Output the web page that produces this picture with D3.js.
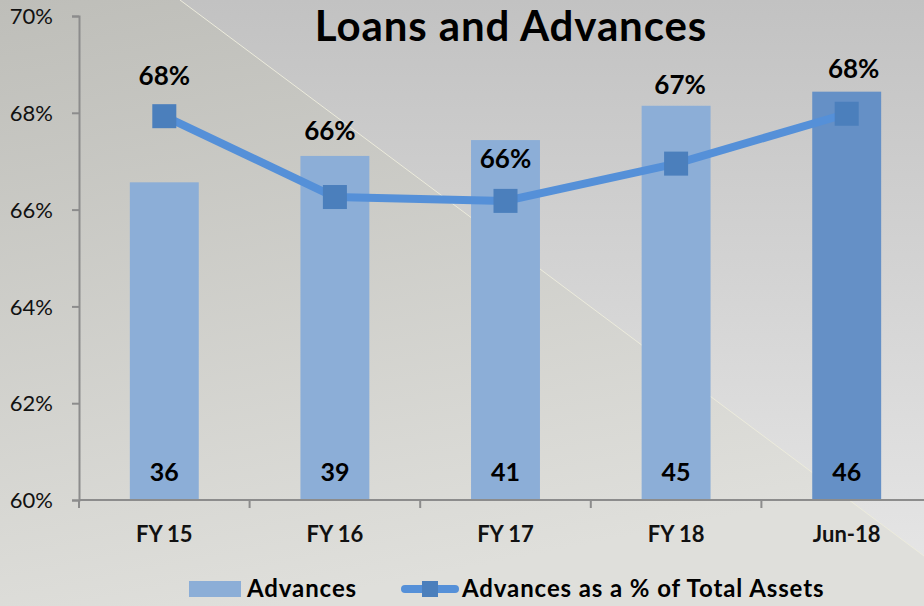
<!DOCTYPE html>
<html>
<head>
<meta charset="utf-8">
<script src="https://cdn.jsdelivr.net/npm/d3@7"></script>
<style>
  body { margin: 0; background: #d0d0cc; }
  svg { display: block; font-family: Lato, "Open Sans", sans-serif; }
</style>
</head>
<body>
<div id="chart"></div>
<script>
// chart data
var categories = ["FY 15", "FY 16", "FY 17", "FY 18", "Jun-18"];
var advances = [36.1, 39.1, 40.9, 44.8, 46.4];          // bars (secondary scale)
var advancesLabels = ["36", "39", "41", "45", "46"];
var pctOfAssets = [67.93, 66.26, 66.18, 66.95, 67.98];  // line (primary scale, %)
var pctLabels = ["68%", "66%", "66%", "67%", "68%"];
var yTicks = [60, 62, 64, 66, 68, 70];

// label nudges copied from the slide (pixels), not data
var pctLabelDx = [0, -5, 0, 4, 7];
var pctLabelDy = [-31, -57, -33, -70, -36];

var width = 924, height = 606;
var svg = d3.select("#chart").append("svg").attr("width", width).attr("height", height);

// background: two shaded panels split by a diagonal
var defs = svg.append("defs");
var gRight = defs.append("linearGradient").attr("id", "bgRight")
    .attr("x1", 0).attr("y1", 0).attr("x2", 0).attr("y2", 1);
gRight.append("stop").attr("offset", "0%").attr("stop-color", "#c2c2c2");
gRight.append("stop").attr("offset", "100%").attr("stop-color", "#e8e8e8");
var gLeft = defs.append("linearGradient").attr("id", "bgLeft")
    .attr("x1", 0).attr("y1", 0).attr("x2", 0.3).attr("y2", 1);
gLeft.append("stop").attr("offset", "0%").attr("stop-color", "#bebeb9");
gLeft.append("stop").attr("offset", "100%").attr("stop-color", "#dfdfdb");

svg.append("rect").attr("width", width).attr("height", height).attr("fill", "url(#bgRight)");
svg.append("path")
    .attr("d", "M0,0 L180,0 L924,556 L924,606 L0,606 Z")
    .attr("fill", "url(#bgLeft)");
svg.append("line")
    .attr("x1", 180).attr("y1", 0).attr("x2", 924).attr("y2", 556)
    .attr("stroke", "#ecebdc").attr("stroke-width", 1);

// scales
var x = d3.scaleBand().domain(categories).range([79, 932])
    .paddingInner(0.596).paddingOuter(0.298);
var xc = d3.scaleBand().domain(categories).range([79, 932]);
var y = d3.scaleLinear().domain([60, 70]).range([500, 16]);
var y2 = d3.scaleLinear().domain([0, 55]).range([500, 16]);

// bars
svg.append("g").selectAll("rect")
    .data(advances)
    .join("rect")
    .attr("x", function(d, i) { return x(categories[i]); })
    .attr("y", function(d) { return y2(d); })
    .attr("width", x.bandwidth())
    .attr("height", function(d) { return y2(0) - y2(d); })
    .attr("fill", function(d, i) { return i === categories.length - 1 ? "#6590c6" : "#8caed7"; });

svg.append("g").selectAll("text")
    .data(advancesLabels)
    .join("text")
    .attr("x", function(d, i) { return xc(categories[i]) + xc.bandwidth() / 2; })
    .attr("y", 481)
    .attr("text-anchor", "middle")
    .attr("font-size", 25).attr("font-weight", "bold").attr("fill", "#000")
    .text(function(d) { return d; });

// axes
var yAxis = d3.axisLeft(y).tickValues(yTicks).tickSize(7).tickPadding(19)
    .tickFormat(function(d) { return d + "%"; });
var gy = svg.append("g").attr("transform", "translate(79,0)").call(yAxis);
gy.select(".domain").attr("stroke", "#8c8c8c").attr("stroke-width", 2);
gy.selectAll(".tick line").attr("stroke", "#8c8c8c").attr("stroke-width", 2);
gy.selectAll(".tick text").attr("font-size", 22).attr("fill", "#111")
    .attr("font-family", "Lato, sans-serif").attr("dy", "0.35em");

var gx = svg.append("g").attr("transform", "translate(0,500)");
gx.append("line").attr("x1", 79).attr("x2", 932).attr("stroke", "#8c8c8c").attr("stroke-width", 2);
gx.selectAll(".cat-tick")
    .data(categories)
    .join("line")
    .attr("class", "cat-tick")
    .attr("x1", function(d) { return xc(d); }).attr("x2", function(d) { return xc(d); })
    .attr("y1", 0).attr("y2", 8)
    .attr("stroke", "#8c8c8c").attr("stroke-width", 2);
gx.selectAll(".cat-label")
    .data(categories)
    .join("text")
    .attr("class", "cat-label")
    .attr("x", function(d) { return xc(d) + xc.bandwidth() / 2; })
    .attr("y", 42)
    .attr("text-anchor", "middle")
    .attr("font-size", 22).attr("font-weight", "bold").attr("fill", "#111")
    .text(function(d) { return d; });

// line series
var line = d3.line()
    .x(function(d, i) { return xc(categories[i]) + xc.bandwidth() / 2; })
    .y(function(d) { return y(d); });

svg.append("path")
    .datum(pctOfAssets)
    .attr("d", line)
    .attr("fill", "none")
    .attr("stroke", "#5590d8")
    .attr("stroke-width", 8)
    .attr("stroke-linejoin", "round");

var ms = 24;
svg.append("g").selectAll("rect")
    .data(pctOfAssets)
    .join("rect")
    .attr("x", function(d, i) { return xc(categories[i]) + xc.bandwidth() / 2 - ms / 2; })
    .attr("y", function(d) { return y(d) - ms / 2; })
    .attr("width", ms).attr("height", ms)
    .attr("fill", "#4b7fbc");

svg.append("g").selectAll("text")
    .data(pctLabels)
    .join("text")
    .attr("x", function(d, i) { return xc(categories[i]) + xc.bandwidth() / 2 + pctLabelDx[i]; })
    .attr("y", function(d, i) { return y(pctOfAssets[i]) + pctLabelDy[i]; })
    .attr("text-anchor", "middle")
    .attr("font-size", 26).attr("font-weight", "bold").attr("fill", "#000")
    .text(function(d) { return d; });

// title
svg.append("text")
    .attr("x", 511).attr("y", 41)
    .attr("text-anchor", "middle")
    .attr("font-size", 42).attr("font-weight", "bold").attr("fill", "#000")
    .attr("letter-spacing", 0.9)
    .text("Loans and Advances");

// legend
var legend = svg.append("g");
legend.append("rect").attr("x", 189).attr("y", 581).attr("width", 52).attr("height", 16).attr("fill", "#8caed7");
legend.append("text").attr("x", 247).attr("y", 597)
    .attr("font-size", 24).attr("font-weight", "bold").attr("letter-spacing", 0.9).text("Advances");
legend.append("line").attr("x1", 405).attr("x2", 455).attr("y1", 589).attr("y2", 589)
    .attr("stroke", "#5590d8").attr("stroke-width", 8).attr("stroke-linecap", "round");
legend.append("rect").attr("x", 422).attr("y", 581).attr("width", 16).attr("height", 16).attr("fill", "#4b7fbc");
legend.append("text").attr("x", 462).attr("y", 597)
    .attr("font-size", 24).attr("font-weight", "bold").attr("letter-spacing", 0.9)
    .text("Advances as a % of Total Assets");
</script>
</body>
</html>
